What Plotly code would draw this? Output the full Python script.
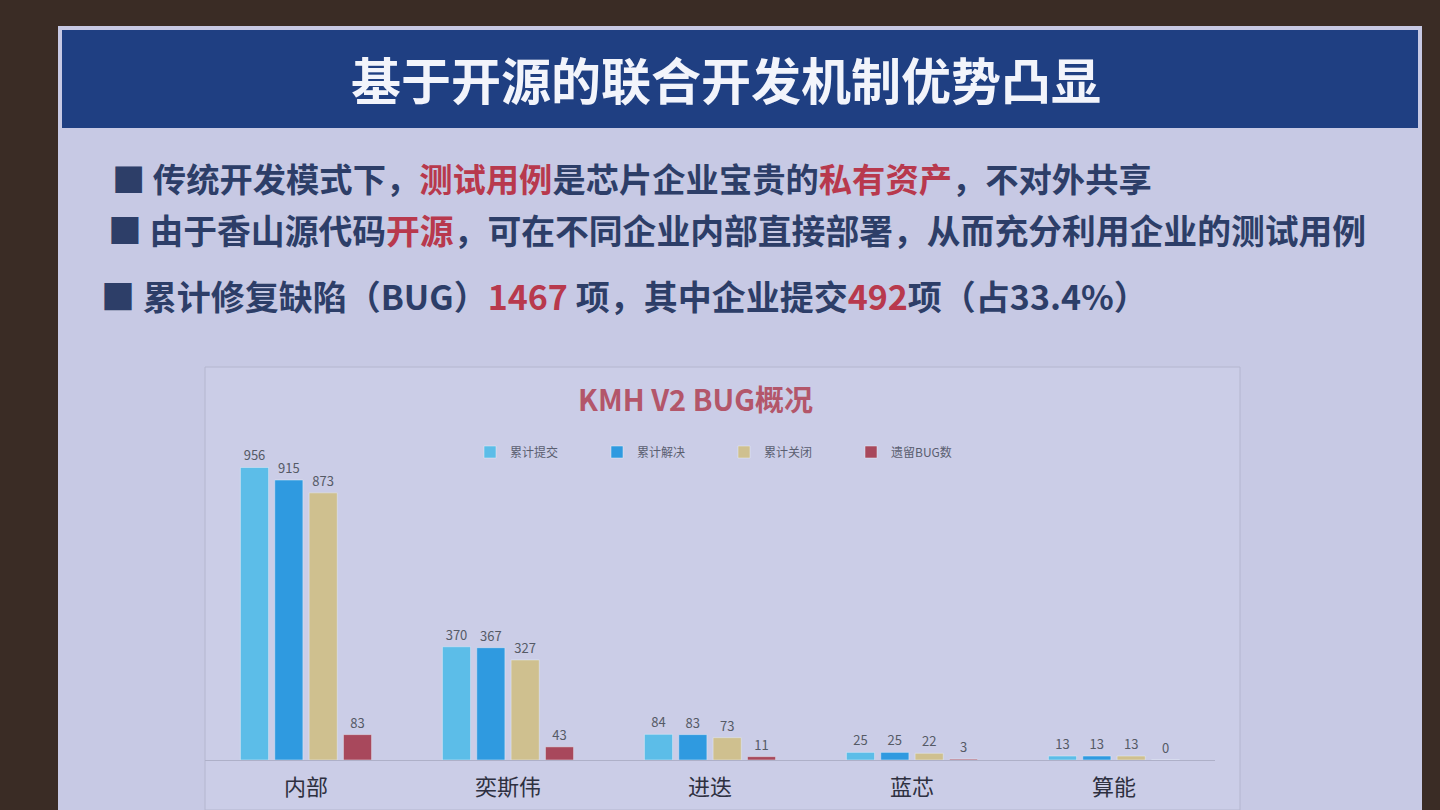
import plotly.graph_objects as go

categories = ["内部", "奕斯伟", "进迭", "蓝芯", "算能"]
series_names = ["累计提交", "累计解决", "累计关闭", "遗留BUG数"]
submitted = [956, 370, 84, 25, 13]
resolved = [915, 367, 83, 25, 13]
closed = [873, 327, 73, 22, 13]
remaining = [83, 43, 11, 3, 0]
series_values = [submitted, resolved, closed, remaining]
series_colors = ["#5cbde8", "#2f9ae0", "#cfc08f", "#a8485c"]

W, H = 1440, 810
FONT = "Noto Sans CJK SC"

def px(x):
    return x / W

def py(y):
    return 1 - y / H

fig = go.Figure()
for name, vals, col in zip(series_names, series_values, series_colors):
    fig.add_trace(go.Bar(
        x=categories, y=vals, name=name, marker_color=col,
        text=[str(v) for v in vals], textposition="outside",
        textfont=dict(size=13, color="#555a66", family=FONT),
        cliponaxis=False,
    ))

shapes = [
    # slide body
    dict(type="rect", xref="paper", yref="paper", x0=px(58), x1=px(1422), y0=py(810), y1=py(26),
         fillcolor="#c7c9e4", line=dict(width=0), layer="below"),
    # title banner
    dict(type="rect", xref="paper", yref="paper", x0=px(62), x1=px(1418), y0=py(128), y1=py(30),
         fillcolor="#1f3f82", line=dict(width=0), layer="below"),
    # chart frame
    dict(type="rect", xref="paper", yref="paper", x0=px(205), x1=px(1240), y0=py(810), y1=py(367),
         fillcolor="#cbcde7", line=dict(width=1, color="#b4b6cf"), layer="below"),
]

red = "#b8394d"
navy = "#2d3e68"

def ann(text, x, y, size, color, xanchor="center"):
    return dict(text=text, x=px(x), y=py(y), xref="paper", yref="paper",
                xanchor=xanchor, yanchor="middle", showarrow=False,
                font=dict(size=size, color=color, family=FONT))

annotations = [
    ann("<b>基于开源的联合开发机制优势凸显</b>", 726, 78, 50, "#f2f4fb"),
    ann(f"<b>■ 传统开发模式下，<span style='color:{red}'>测试用例</span>是芯片企业宝贵的<span style='color:{red}'>私有资产</span>，不对外共享</b>",
        110, 177, 33.3, navy, "left"),
    ann(f"<b>■ 由于香山源代码<span style='color:{red}'>开源</span>，可在不同企业内部直接部署，从而充分利用企业的测试用例</b>",
        106, 229, 33.8, navy, "left"),
    ann(f"<b>■ 累计修复缺陷（BUG）<span style='color:{red}'>1467</span> 项，其中企业提交<span style='color:{red}'>492</span>项（占33.4%）</b>",
        99, 296, 34, navy, "left"),
    ann("<b>KMH V2 BUG概况</b>", 695, 398, 29, "#b3566a"),
]

fig.update_layout(
    width=W, height=H,
    margin=dict(l=0, r=0, t=0, b=0),
    paper_bgcolor="#3a2c25",
    plot_bgcolor="rgba(0,0,0,0)",
    barmode="group", bargap=0.32, bargroupgap=0.18,
    font=dict(family=FONT, color="#333"),
    shapes=shapes, annotations=annotations,
    showlegend=True,
    legend=dict(orientation="h", x=px(470), y=py(452), xanchor="left", yanchor="middle",
                xref="paper", yref="paper",
                entrywidth=82, entrywidthmode="pixels",
                font=dict(size=12, color="#5a5e70", family=FONT),
                bgcolor="rgba(0,0,0,0)", itemwidth=30),
    xaxis=dict(domain=[px(205), px(1215)], showline=True, linecolor="#aeb0c8", linewidth=1,
               ticks="", tickfont=dict(size=22, color="#2e3040", family=FONT), showgrid=False,
               ticklabelstandoff=8),
    yaxis=dict(domain=[py(760), py(454)], range=[0, 1000], visible=False, showgrid=False),
)

fig.write_html("out.html", config={"displayModeBar": False},
               post_script="document.body.style.margin='0';")
